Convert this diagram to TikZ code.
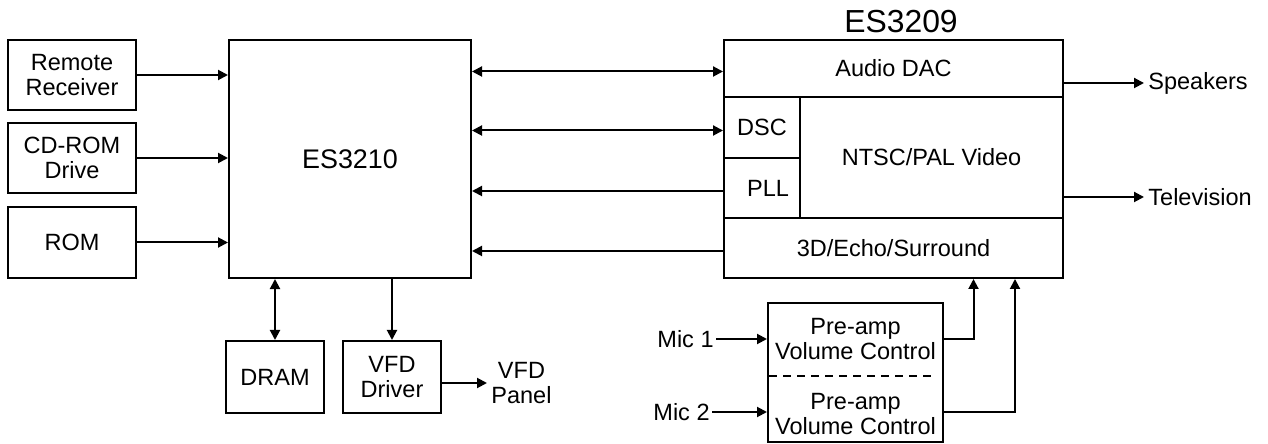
\documentclass[tikz,border=0pt]{standalone}
\usepackage{fontspec}
\setmainfont{Liberation Sans}
\usetikzlibrary{arrows.meta,positioning}

\tikzset{
    blk/.style={draw, line width=1bp, inner sep=0pt, align=center},
    lbl/.style={inner sep=2bp, align=center},
    arr/.style={line width=1bp, -{Triangle[length=5bp,width=5bp]}},
    dbl/.style={line width=1bp, {Triangle[length=5bp,width=5bp]}-{Triangle[length=5bp,width=5bp]}},
}

\begin{document}
\begin{tikzpicture}[x=0.5bp, y=-0.5bp, font=\fontsize{11.8}{12.5}\selectfont]
    \useasboundingbox (0,0) rectangle (1268,444);

    % inputs on the left
    \node[blk, minimum width=64bp, minimum height=35bp]   (remote) at (72,75)    {Remote\\Receiver};
    \node[blk, minimum width=64bp, minimum height=35bp]   (cdrom)  at (72,158)   {CD-ROM\\Drive};
    \node[blk, minimum width=64bp, minimum height=35.5bp] (rom)    at (72,242.5) {ROM};

    % decoder
    \node[blk, minimum width=121bp, minimum height=119bp, font=\fontsize{13.5}{15}\selectfont] (es3210) at (350,159) {\raisebox{-3bp}{ES3210}};

    % ES3209 blocks
    \node[blk, minimum width=169.5bp, minimum height=28.5bp] (dac)      at (893.5,68.5) {Audio DAC};
    \node[blk, minimum width=38bp, minimum height=30.5bp]    (dsc)      at (762,127.5)  {DSC};
    \node[blk, minimum width=38bp, minimum height=30bp]      (pll)      at (762,188)    {\hspace{6bp}PLL};
    \node[blk, minimum width=131.5bp, minimum height=60.5bp] (video)    at (931.5,157.5) {\raisebox{-4bp}{NTSC/PAL Video}};
    \node[blk, minimum width=169.5bp, minimum height=30bp]   (surround) at (893.5,248)  {3D/Echo/Surround};
    \node[lbl, font=\fontsize{16}{18}\selectfont] (es3209) at (901,22) {ES3209};

    % memory and display
    \node[blk, minimum width=49bp, minimum height=36bp] (dram) at (275,377) {DRAM};
    \node[blk, minimum width=49bp, minimum height=36bp] (vfd)  at (392,377) {VFD\\Driver};
    \node[lbl, anchor=west] (panel) at (487,383) {VFD\\Panel};

    % microphone inputs
    \node[blk, minimum width=87.5bp, minimum height=69.5bp] (mixer) at (855.5,372.5) {};
    \node[lbl] (pre1) at (855.5,339) {Pre-amp\\Volume Control};
    \node[lbl] (pre2) at (855.5,414) {Pre-amp\\Volume Control};
    \coordinate (split) at (855.5,376);
    \node[lbl, anchor=east, inner sep=1bp] (mic1) at (716,339) {Mic 1};
    \node[lbl, anchor=east, inner sep=1bp] (mic2) at (712,412) {Mic 2};

    % outputs
    \node[lbl, anchor=west] (speakers) at (1144,83)  {Speakers};
    \node[lbl, anchor=west] (tv)       at (1144,197) {Television};

    % connectors
    \foreach \src in {remote, cdrom, rom}
        \draw[arr] (\src.east) -- (\src.east -| es3210.west);
    \foreach \dst/\tip in {dac/dbl, dsc/dbl, pll/arr, surround/arr}
        \draw[\tip] ([yshift=-1.5bp]\dst.west) -- ([yshift=-1.5bp]\dst.west -| es3210.east);
    \draw[dbl] (dram.north) -- (dram.north |- es3210.south);
    \draw[arr] (vfd.north |- es3210.south) -- (vfd.north);
    \draw[arr] (panel.west -| vfd.east) -- (panel.west);
    \draw[arr] (speakers.west -| dac.east) -- (speakers.west);
    \draw[arr] (tv.west -| video.east) -- (tv.west);
    \draw[arr] (mic1.east) -- (mic1.east -| mixer.west);
    \draw[arr] (mic2.east) -- (mic2.east -| mixer.west);
    \draw[line width=1bp, dash pattern=on 4bp off 3bp] ([xshift=1bp]split -| mixer.west) -- ([xshift=-4bp]split -| mixer.east);
    \draw[arr] (pre1 -| mixer.east) -| ([xshift=40bp]surround.south);
    \draw[arr] (mic2.east -| mixer.east) -| ([xshift=60.75bp]surround.south);
\end{tikzpicture}
\end{document}
